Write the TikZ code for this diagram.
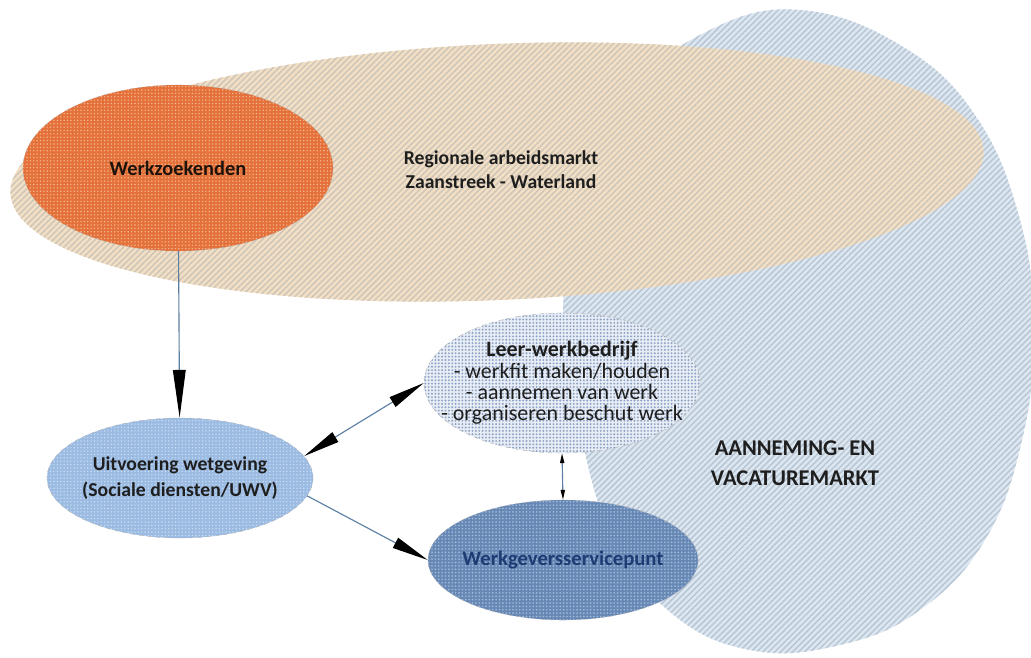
\documentclass[tikz,border=0pt]{standalone}
\usepackage{fontspec}
\setmainfont{Carlito}
\usetikzlibrary{shapes.geometric,arrows.meta,patterns.meta,positioning}

\definecolor{tanbg}{HTML}{F3E0C4}
\definecolor{tanln}{HTML}{CFC6BA}
\definecolor{markbg}{HTML}{DDE7F1}
\definecolor{markln}{HTML}{B9C7D5}
\definecolor{orbg}{HTML}{E4703A}
\definecolor{ordot}{HTML}{F6B58C}
\definecolor{uitbg}{HTML}{9BBBE2}
\definecolor{uitdot}{HTML}{CADCF2}
\definecolor{lwbbg}{HTML}{E8EDF5}
\definecolor{lwbdot}{HTML}{8CA3C5}
\definecolor{wspbg}{HTML}{6788B5}
\definecolor{wspdot}{HTML}{A0B8D8}
\definecolor{linkc}{HTML}{5B7EA3}
\definecolor{txtc}{HTML}{1E1E1E}
\definecolor{wsptxt}{HTML}{1F3B73}

\begin{document}
\begin{tikzpicture}[x=0.025cm,y=-0.025cm,
    blob/.style={ellipse,draw=gray!60,line width=0.3pt,dashed,inner sep=0pt},
    lbl/.style={text=txtc,align=center,font=\bfseries\fontsize{14}{17}\selectfont},
    link/.style={draw=linkc,line width=0.8pt},
    bigtip/.tip={Triangle[length=34pt,width=9pt,color=black]},
    midtip/.tip={Triangle[length=26pt,width=8pt,color=black]},
    smalltip/.tip={Triangle[length=7pt,width=3pt,color=black]}]
  \useasboundingbox (0,0) rectangle (1031,657);

  % vacaturemarkt en regio
  \begin{scope}
    \clip (0,0) rectangle (1031,657);
    \path[preaction={fill=markbg},
      pattern={Lines[angle=45,distance=3pt,line width=1.1pt]},pattern color=markln]
      plot[smooth cycle,tension=0.7] coordinates {(800,10) (900,45) (975,115) (1020,220)
        (1034,330) (1022,440) (985,540) (920,610) (840,645) (750,650) (670,612)
        (612,535) (582,440) (563,330) (580,200) (635,90) (710,30)};
  \end{scope}
  \path[rotate around={2.5:(497,172)},preaction={fill=tanbg},
    pattern={Lines[angle=45,distance=3pt,line width=1.1pt]},pattern color=tanln]
    (497,172) ellipse [x radius=487, y radius=128];

  \node[lbl] (ram) at (501,170) {Regionale arbeidsmarkt\\Zaanstreek - Waterland};
  \node[lbl,font=\bfseries\fontsize{16}{21}\selectfont] (avm) at (795,463) {AANNEMING- EN\\VACATUREMARKT};

  % knooppunten
  \node[blob,preaction={fill=orbg},pattern={Dots[radius=0.6pt,distance=2.4pt]},pattern color=ordot,
    minimum width=7.75cm,minimum height=4.15cm,
    label={[lbl,font=\bfseries\fontsize{14.5}{17}\selectfont,text=black!85!brown]center:Werkzoekenden}] (wz) at (178,168) {};
  \node[blob,preaction={fill=uitbg},pattern={Dots[radius=0.6pt,distance=2.4pt]},pattern color=uitdot,
    minimum width=6.65cm,minimum height=3cm,
    label={[lbl,font=\bfseries\fontsize{14}{18.5}\selectfont]center:Uitvoering wetgeving\\(Sociale diensten/UWV)}] (uit) at (180,478) {};
  \node[blob,preaction={fill=lwbbg},pattern={Dots[radius=0.75pt,distance=2.4pt]},pattern color=lwbdot,
    minimum width=6.9cm,minimum height=3.5cm,
    label={[lbl,font=\fontsize{15.6}{15.2}\selectfont]center:\textbf{Leer-werkbedrijf}\\- werkfit maken/houden\\- aannemen van werk\\- organiseren beschut werk}] (lwb) at (562,383) {};
  \node[blob,preaction={fill=wspbg},pattern={Dots[radius=0.7pt,distance=2.4pt]},pattern color=wspdot,
    minimum width=6.75cm,minimum height=3cm,
    label={[lbl,font=\bfseries\fontsize{14.7}{17}\selectfont,text=wsptxt]center:Werkgeversservicepunt}] (wsp) at (563,560) {};

  % verbindingen
  \draw[link,-bigtip] (wz) -- (uit);
  \draw[link,midtip-midtip] (uit.10) -- (lwb.west);
  \draw[link,-midtip] (uit.-8) -- (wsp.west);
  \draw[link,smalltip-smalltip] (lwb.south) -- (wsp.north);
\end{tikzpicture}
\end{document}
